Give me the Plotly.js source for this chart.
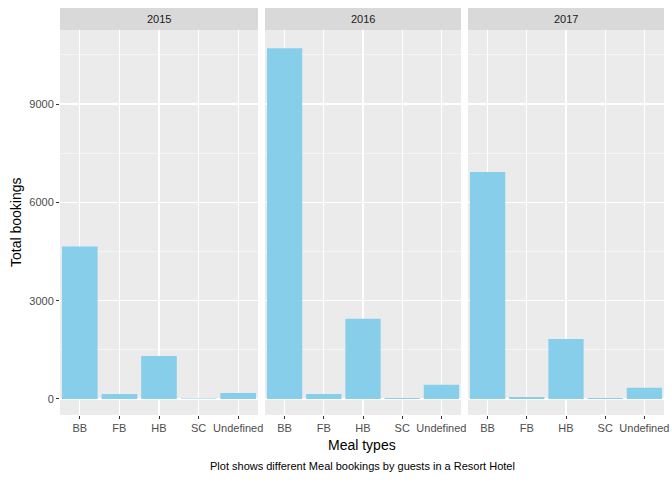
<!DOCTYPE html><html><head><script src="https://cdn.plot.ly/plotly-3.0.1.min.js"></script></head><body style="margin:0"><div id="c" style="width:672px;height:480px"></div><script>
const meals=["BB","FB","HB","SC","Undefined"];
const years=["2015","2016","2017"];
const v2015=[4650,150,1310,10,180];
const v2016=[10700,150,2450,30,430];
const v2017=[6930,60,1830,30,340];
const vals=[v2015,v2016,v2017];
const xd=[[60/672,258/672],[265/672,461/672],[468/672,664/672]];
const yd=[1-415/480,1-30/480];
const traces=[],layout={width:672,height:480,margin:{l:0,r:0,t:0,b:0},paper_bgcolor:"white",plot_bgcolor:"#EBEBEB",showlegend:false,shapes:[],annotations:[],font:{family:"Liberation Sans, Arial",size:11,color:"#4D4D4D"}};
vals.forEach((v,i)=>{const s=i?String(i+1):"";
traces.push({type:"bar",x:meals,y:v,xaxis:"x"+s,yaxis:"y"+s,marker:{color:"#87CEEB"},width:0.9,hoverinfo:"none"});
layout["xaxis"+s]={domain:xd[i],anchor:"y"+s,showgrid:true,gridcolor:"white",gridwidth:1.2,ticks:"outside",ticklen:3,tickcolor:"#333",tickfont:{color:"#4D4D4D",size:11},zeroline:false,fixedrange:true};
layout["yaxis"+s]={domain:yd,anchor:"x"+s,range:[-490,11260],tickvals:[0,3000,6000,9000],showticklabels:i==0,ticks:i==0?"outside":"",ticklen:3,tickcolor:"#333",gridcolor:"white",gridwidth:1.2,minor:{tickvals:[1500,4500,7500,10500],gridcolor:"white",gridwidth:0.5,showgrid:true},zeroline:false,tickfont:{color:"#4D4D4D",size:11}};
layout.shapes.push({type:"rect",xref:"paper",yref:"paper",x0:xd[i][0],x1:xd[i][1],y0:yd[1],y1:1-8/480,fillcolor:"#D9D9D9",line:{width:0},layer:"below"});
layout.annotations.push({text:years[i],xref:"paper",yref:"paper",x:(xd[i][0]+xd[i][1])/2,y:1-19/480,xanchor:"center",yanchor:"middle",showarrow:false,font:{size:11,color:"#1A1A1A"}});
});
const ann=(text,x,y,size,extra)=>layout.annotations.push(Object.assign({text,xref:"paper",yref:"paper",x:x/672,y:1-y/480,xanchor:"center",yanchor:"middle",showarrow:false,font:{size,color:"#000"}},extra||{}));
ann("Meal types",362,445,14);
ann("Total bookings",16,222,14,{textangle:-90});
ann("Plot shows different Meal bookings by guests in a Resort Hotel",362,466,11);
Plotly.newPlot("c",traces,layout,{staticPlot:true});
</script></body></html>
